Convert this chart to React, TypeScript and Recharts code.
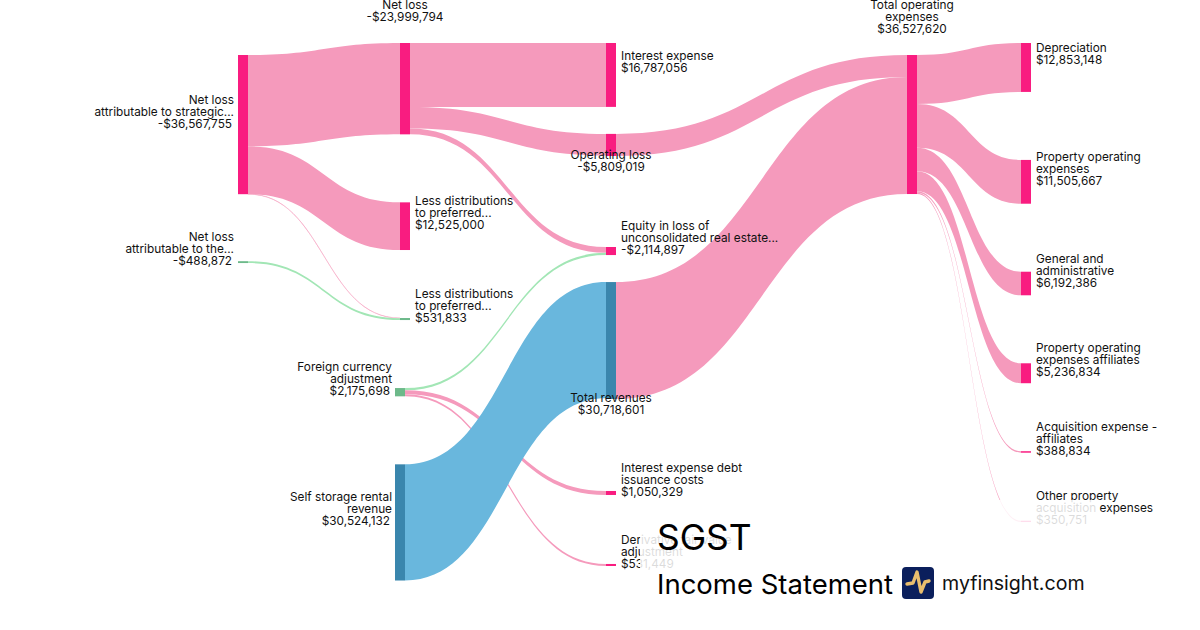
import * as React from 'react';
import { Sankey } from 'recharts';

// node tables, same order everywhere
const nodeNames = [
  'Net loss attributable to strategic...',
  'Net loss attributable to the...',
  'Net loss',
  'Less distributions to preferred... (1)',
  'Less distributions to preferred... (2)',
  'Foreign currency adjustment',
  'Self storage rental revenue',
  'Interest expense',
  'Operating loss',
  'Equity in loss of unconsolidated real estate...',
  'Total revenues',
  'Interest expense debt issuance costs',
  'Derivative fair value adjustment',
  'Total operating expenses',
  'Depreciation',
  'Property operating expenses',
  'General and administrative',
  'Property operating expenses affiliates',
  'Acquisition expense - affiliates',
  'Other property acquisition expenses',
  'root',
];

const nodeLabels = [
  ['Net loss', 'attributable to strategic...'],
  ['Net loss', 'attributable to the...'],
  ['Net loss'],
  ['Less distributions', 'to preferred...'],
  ['Less distributions', 'to preferred...'],
  ['Foreign currency', 'adjustment'],
  ['Self storage rental', 'revenue'],
  ['Interest expense'],
  ['Operating loss'],
  ['Equity in loss of', 'unconsolidated real estate...'],
  ['Total revenues'],
  ['Interest expense debt', 'issuance costs'],
  ['Derivative fair value', 'adjustment'],
  ['Total operating', 'expenses'],
  ['Depreciation'],
  ['Property operating', 'expenses'],
  ['General and', 'administrative'],
  ['Property operating', 'expenses affiliates'],
  ['Acquisition expense -', 'affiliates'],
  ['Other property', 'acquisition expenses'],
  [],
];

const nodeAmounts = [
  '-$36,567,755', '-$488,872', '-$23,999,794', '$12,525,000', '$531,833',
  '$2,175,698', '$30,524,132', '$16,787,056', '-$5,809,019', '-$2,114,897',
  '$30,718,601', '$1,050,329', '$531,449', '$36,527,620', '$12,853,148',
  '$11,505,667', '$6,192,386', '$5,236,834', '$388,834', '$350,751', '',
];

const nodeKinds = [
  'loss', 'profit', 'loss', 'loss', 'profit', 'profit', 'revenue', 'loss', 'loss', 'loss',
  'revenue', 'loss', 'loss', 'loss', 'loss', 'loss', 'loss', 'loss', 'loss', 'loss', 'hidden',
];

const labelSides = [
  'left', 'left', 'top', 'right', 'right', 'left', 'left', 'right', 'bottom', 'right',
  'bottom', 'right', 'right', 'top', 'right', 'right', 'right', 'right', 'right', 'right', 'none',
];

// source, target, value, kind
const linkSources = [0, 0, 0, 1, 2, 2, 2, 5, 5, 5, 6, 8, 10, 13, 13, 13, 13, 13, 13, 20, 20];
const linkTargets = [2, 3, 4, 4, 7, 8, 9, 9, 11, 12, 10, 13, 13, 14, 15, 16, 17, 18, 19, 5, 6];
const linkValues = [
  23999794, 12525000, 42961, 488872, 16787056, 5691761, 1520977, 593920, 1050329, 531449,
  30524132, 5809019, 30718601, 12853148, 11505667, 6192386, 5236834, 388834, 350751, 2175698, 30524132,
];
const linkKinds = [
  'loss', 'loss', 'loss', 'profit', 'loss', 'loss', 'loss', 'profit', 'loss', 'loss',
  'revenue', 'loss', 'loss', 'loss', 'loss', 'loss', 'loss', 'loss', 'loss', 'hidden', 'hidden',
];

const nodeFill: Record<string, string> = { loss: '#F91C80', revenue: '#3A86AD', profit: '#6DB98A' };
const linkFill: Record<string, string> = { loss: '#F59ABC', revenue: '#69B7DD', profit: '#A2E6B5' };

// where each sankey depth sits on the page, recharts only spaces columns evenly
const columnX = [238, 400, 606, 907, 1021];
const rootChildX = 395;
// shift from the top-aligned stack the library gives, per node
const layoutShiftY = [12, 11, 0, 0, 0, 0, 0, 0, -41, -18, -59, -35, -34, 12, 0, 0, 0, 0, 0, 0, 0];

const FONT = 'Inter, sans-serif';
const LINE = 12;
const LABEL_SIZE = 11.8;

const sankeyData = {
  nodes: nodeNames.map((name, i) => ({ name, i })),
  links: linkSources.map((source, i) => ({ source, target: linkTargets[i], value: linkValues[i], kind: linkKinds[i] })),
};

const isRootChild = (node: any) => linkSources.some((s, k) => s === 20 && linkTargets[k] === node.i);
const nodeX = (node: any) => (isRootChild(node) ? rootChildX : columnX[node.depth]);

const SankeyNode = (props: any) => {
  const { width, height, payload } = props;
  const i = payload.i;
  if (nodeKinds[i] === 'hidden') return <g />;
  const x = nodeX(payload);
  const y = props.y + layoutShiftY[i];
  const side = labelSides[i];
  const lines = [...nodeLabels[i], nodeAmounts[i]];
  const last = lines.length - 1;
  const mid = y + height / 2;
  let anchor = 'start';
  let tx = x + width + 5;
  let ty = lines.length === 2 ? mid - 15 : mid + 3 - last * LINE;
  if (side === 'left') {
    anchor = 'end';
    tx = x - (isRootChild(payload) ? 3 : 4);
  } else if (side === 'top') {
    anchor = 'middle';
    tx = x + width / 2;
    ty = y - 22 - last * LINE;
  } else if (side === 'bottom') {
    anchor = 'middle';
    tx = x + width / 2;
    ty = y + height + 3;
  }
  return (
    <g>
      <rect x={x} y={y} width={width} height={height} fill={nodeFill[nodeKinds[i]]} />
      <text x={tx} y={ty} textAnchor={anchor} fontFamily={FONT} fontSize={LABEL_SIZE} fill="#111">
        {lines.map((line, k) => (
          <tspan key={k} x={side === 'left' && k === last ? tx - 2 : tx} dy={k === 0 ? 0 : LINE}>{line}</tspan>
        ))}
      </text>
    </g>
  );
};

// filled ribbon, keeps its vertical thickness so it thins out on steep parts
const SankeyLink = (props: any) => {
  const { sourceY, targetY, linkWidth, payload } = props;
  if (payload.kind === 'hidden') return <g />;
  const x0 = nodeX(payload.source) + 10;
  const x1 = nodeX(payload.target);
  const mx = (x0 + x1) / 2;
  const half = linkWidth / 2;
  const sy = sourceY + layoutShiftY[payload.source.i];
  const ty = targetY + layoutShiftY[payload.target.i];
  return (
    <path
      d={`M${x0},${sy - half}C${mx},${sy - half} ${mx},${ty - half} ${x1},${ty - half}L${x1},${ty + half}C${mx},${ty + half} ${mx},${sy + half} ${x0},${sy + half}Z`}
      fill={linkFill[payload.kind]}
      stroke={linkFill[payload.kind]}
      strokeWidth={linkWidth < 1 ? 0.4 : 0}
    />
  );
};

const TitleBlock = () => (
  <>
    <div style={{ position: 'absolute', left: 640, top: 500, width: 458, height: 120, background: 'rgba(255,255,255,0.85)' }} />
    <div style={{ position: 'absolute', left: 657, top: 515, fontFamily: FONT, fontSize: 35.4, lineHeight: '46px', color: '#000' }}>SGST</div>
    <div style={{ position: 'absolute', left: 657, top: 566, fontFamily: FONT, fontSize: 27.5, lineHeight: '36px', color: '#000', whiteSpace: 'nowrap' }}>Income Statement</div>
    <svg style={{ position: 'absolute', left: 902, top: 567 }} width={32} height={32} viewBox="0 0 32 32">
      <rect width={32} height={32} rx={4} fill="#0B1F5C" />
      <polyline points="5,17 11,16 15,5 19,25 23,15 27,14" fill="none" stroke="#E9BE6E" strokeWidth={3.4} strokeLinecap="round" strokeLinejoin="round" />
    </svg>
    <div style={{ position: 'absolute', left: 942, top: 569, fontFamily: FONT, fontSize: 19.6, lineHeight: '28px', color: '#111', whiteSpace: 'nowrap' }}>myfinsight.com</div>
  </>
);

export default function App() {
  return (
    <div style={{ position: 'absolute', left: 0, top: 0, width: 1200, height: 630, background: '#fff', overflow: 'hidden' }}>
      <Sankey
        width={1200}
        height={630}
        data={sankeyData}
        nodeWidth={10}
        nodePadding={68}
        iterations={32}
        sort={false}
        align="left"
        verticalAlign="top"
        margin={{ top: 43, right: 0, bottom: 30, left: 0 }}
        node={<SankeyNode />}
        link={<SankeyLink />}
      />
      <TitleBlock />
    </div>
  );
}
